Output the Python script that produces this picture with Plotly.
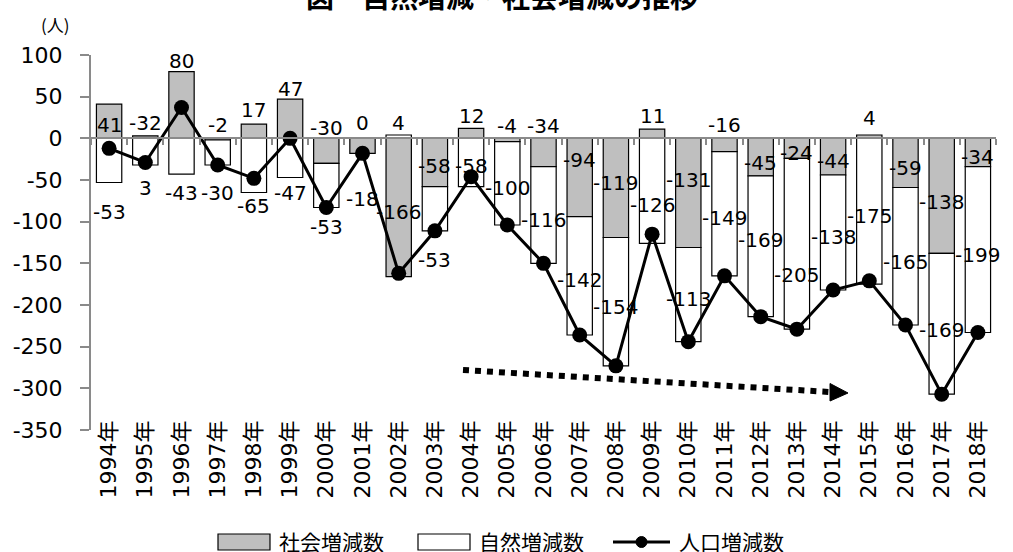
import plotly.graph_objects as go

# ---------------- data ----------------
years = [str(y) + "年" for y in range(1994, 2019)]
social = [41, 3, 80, -2, 17, 47, -30, -18, -166, -58, 12, -4, -34, -94, -119,
          11, -131, -16, -45, -24, -44, 4, -59, -138, -34]
natural = [-53, -32, -43, -30, -65, -47, -53, 0, 4, -53, -58, -100, -116, -142,
           -154, -126, -113, -149, -169, -205, -138, -175, -165, -169, -199]
total = [-12, -29, 37, -32, -48, 0, -83, -18, -162, -111, -46, -104, -150, -236,
         -273, -115, -244, -165, -214, -229, -182, -171, -224, -307, -233]
y_ticks = [100, 50, 0, -50, -100, -150, -200, -250, -300, -350]

# label placement (y in axis units) -- layout only
soc_label_y = [16, -60, 93, 16, 34, 59, 12, -73, -88, -33, 27, 15, 15, -26, -53,
               27, -50, 16, -29, -18, -27, 24, -35, -76, -22]
nat_label_y = [-88, 19, -66, -66, -81, -66, -106, 19, 18, -146, -33, -60, -98,
               -170, -202, -80, -193, -95, -122, -164, -118, -93, -148, -230, -140]

W, H = 1013, 552
L, R, T, B = 91, 996, 55, 430
YMIN, YMAX = -350, 100
N = len(years)

NUM_FONT = "DejaVu Sans, Noto Sans CJK JP"
JP_FONT = "Noto Sans CJK JP"
AXIS_GRAY = "#8a8a8a"


def px_x(px):
    return (px - L) / (R - L)


def px_y(py):
    return (B - py) / (B - T)


def dx(px):
    return (px - L) / (R - L) * N - 0.5


def dy(py):
    return YMAX - (py - T) / (B - T) * (YMAX - YMIN)


fig = go.Figure()
fig.add_trace(go.Bar(x=years, y=social, name="社会増減数",
                     marker=dict(color="#bfbfbf", line=dict(color="#000000", width=1.2)),
                     showlegend=False))
fig.add_trace(go.Bar(x=years, y=natural, name="自然増減数",
                     marker=dict(color="#ffffff", line=dict(color="#000000", width=1.2)),
                     showlegend=False))
fig.add_trace(go.Scatter(x=years, y=total, name="人口増減数", mode="lines+markers",
                         line=dict(color="#000000", width=3),
                         marker=dict(color="#000000", size=15),
                         showlegend=False))
# helper trace so the zero-line axis is drawn
fig.add_trace(go.Scatter(x=[None], y=[None], xaxis="x2", showlegend=False,
                         hoverinfo="skip"))

annotations = []
for i in range(N):
    annotations.append(dict(x=years[i], y=soc_label_y[i], text=str(social[i]),
                            showarrow=False, xanchor="center", yanchor="middle",
                            font=dict(family=NUM_FONT, size=20, color="#000")))
    annotations.append(dict(x=years[i], y=nat_label_y[i], text=str(natural[i]),
                            showarrow=False, xanchor="center", yanchor="middle",
                            font=dict(family=NUM_FONT, size=20, color="#000")))

# title (partly cut off at top as in the reference)
annotations.append(dict(xref="paper", yref="paper", x=px_x(502), y=px_y(-4),
                        text="<b>図　自然増減・社会増減の推移</b>", showarrow=False,
                        xanchor="center", yanchor="middle",
                        font=dict(family=JP_FONT, size=28, color="#000")))
# unit
annotations.append(dict(xref="paper", yref="paper", x=px_x(55), y=px_y(25),
                        text="(人)", showarrow=False, xanchor="center", yanchor="middle",
                        font=dict(family=JP_FONT, size=17, color="#000")))

# legend (manual, Excel style)
leg_y = 541
for lx, txt in [(277, "社会増減数"), (477, "自然増減数"), (677, "人口増減数")]:
    annotations.append(dict(xref="paper", yref="paper", x=px_x(lx), y=px_y(leg_y),
                            text=txt, showarrow=False, xanchor="left", yanchor="middle",
                            font=dict(family=JP_FONT, size=21, color="#000")))

shapes = [
    dict(type="rect", xref="paper", yref="paper", x0=px_x(218), x1=px_x(270),
         y0=px_y(550), y1=px_y(534), fillcolor="#bfbfbf",
         line=dict(color="#000", width=1.2)),
    dict(type="rect", xref="paper", yref="paper", x0=px_x(418), x1=px_x(470),
         y0=px_y(550), y1=px_y(534), fillcolor="#ffffff",
         line=dict(color="#000", width=1.2)),
    dict(type="line", xref="paper", yref="paper", x0=px_x(613), x1=px_x(670),
         y0=px_y(542), y1=px_y(542), line=dict(color="#000", width=3)),
    dict(type="circle", xref="paper", yref="paper", x0=px_x(636), x1=px_x(647),
         y0=px_y(547.5), y1=px_y(536.5), fillcolor="#000", line=dict(color="#000", width=1)),
    # dotted trend arrow
    dict(type="line", xref="x", yref="y", x0=dx(463), y0=dy(370), x1=dx(830), y1=dy(392),
         line=dict(color="#000", width=6, dash="dot")),
    dict(type="path", xref="x", yref="y",
         path=f"M {dx(830)},{dy(383.5)} L {dx(848)},{dy(393)} L {dx(830)},{dy(401)} Z",
         fillcolor="#000", line=dict(color="#000", width=1)),
]

fig.update_layout(
    width=W, height=H,
    margin=dict(l=L, r=W - R, t=T, b=H - B),
    paper_bgcolor="white", plot_bgcolor="white",
    barmode="relative", bargap=0.3,
    showlegend=False,
    annotations=annotations,
    shapes=shapes,
    xaxis=dict(type="category", range=[-0.5, N - 0.5], showline=False, ticks="",
               showgrid=False, tickangle=-90, ticklabelstandoff=-15,
               tickfont=dict(family=NUM_FONT, size=22, color="#000")),
    xaxis2=dict(overlaying="x", anchor="free", side="bottom",
                position=(0 - YMIN) / (YMAX - YMIN), range=[-0.5, N - 0.5],
                showline=True, linecolor=AXIS_GRAY, linewidth=2,
                ticks="outside", ticklen=6, tickwidth=2, tickcolor=AXIS_GRAY,
                tickmode="array", tickvals=[i - 0.5 for i in range(N + 1)],
                showticklabels=False, showgrid=False, zeroline=False),
    yaxis=dict(range=[YMIN, YMAX], tickmode="array", tickvals=y_ticks,
               ticktext=[str(v) for v in y_ticks],
               showgrid=False, zeroline=False,
               showline=True, linecolor=AXIS_GRAY, linewidth=2,
               ticks="outside", ticklen=9, tickwidth=2, tickcolor=AXIS_GRAY,
               ticklabelstandoff=13,
               tickfont=dict(family=NUM_FONT, size=22, color="#000")),
)

fig.write_html("out.html",
               config={"displayModeBar": False},
               post_script="document.body.style.margin='0px';"
                           "document.body.style.overflow='hidden';")
